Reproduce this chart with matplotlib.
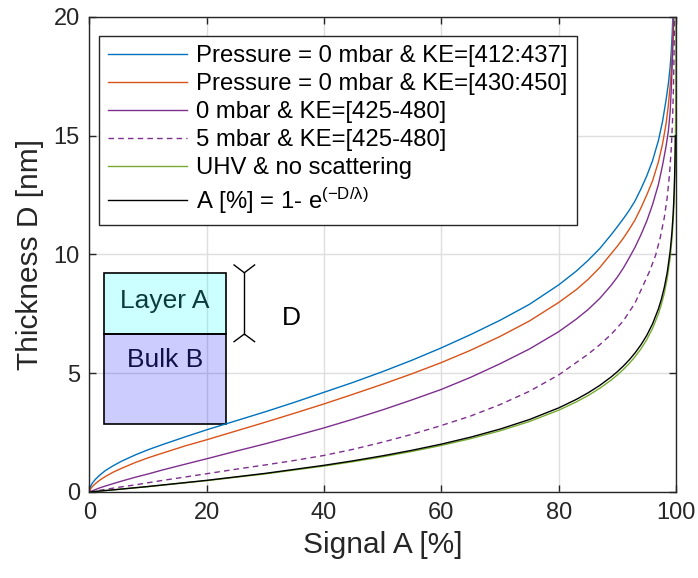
import matplotlib
matplotlib.use("Agg")
import matplotlib.pyplot as plt
from matplotlib.patches import Rectangle

plt.rcParams['font.family'] = ['Liberation Sans', 'DejaVu Sans']
plt.rcParams['mathtext.fontset'] = 'custom'
plt.rcParams['mathtext.rm'] = 'Liberation Sans'
plt.rcParams['mathtext.default'] = 'regular'

# Signal A [%] vs layer thickness D [nm] for each setup
a_ke412 = [0, 0.2, 0.5, 1, 1.7, 2.7, 4, 5.5, 7.8, 10, 12.5, 16.3, 20, 25, 30, 35, 40, 45, 50, 55,
           60, 65, 70, 75, 80, 83, 85, 87, 89, 90, 91, 92, 93, 94, 95, 96, 97, 97.7, 98.3, 98.7,
           99.0, 99.2, 99.35, 99.45]
d_ke412 = [0, 0.24, 0.38, 0.53, 0.7, 0.9, 1.1, 1.3, 1.56, 1.78, 2.0, 2.32, 2.62, 3.0, 3.38, 3.78,
           4.2, 4.62, 5.07, 5.55, 6.07, 6.63, 7.23, 7.9, 8.72, 9.3, 9.75, 10.25, 10.85, 11.17, 11.5,
           11.85, 12.25, 12.75, 13.3, 13.95, 14.8, 15.6, 16.5, 17.2, 17.9, 18.6, 19.3, 20.0]

a_ke430 = [0, 0.2, 0.5, 1, 1.7, 2.7, 4, 5.5, 7.8, 10, 12.5, 16.3, 20, 25, 30, 35, 40, 45, 50, 55,
           60, 65, 70, 75, 80, 83, 85, 87, 89, 90, 91, 92, 93, 94, 95, 96, 97, 97.7, 98.3, 98.7,
           99.0, 99.2, 99.35, 99.5, 99.55]
d_ke430 = [0, 0.14, 0.23, 0.35, 0.49, 0.65, 0.83, 1.0, 1.24, 1.44, 1.64, 1.94, 2.2, 2.57, 2.94,
           3.32, 3.71, 4.12, 4.54, 4.98, 5.45, 5.97, 6.55, 7.2, 7.98, 8.52, 8.95, 9.45, 10.05, 10.35,
           10.68, 11.05, 11.45, 11.95, 12.5, 13.1, 13.9, 14.65, 15.5, 16.3, 17.1, 17.8, 18.6, 19.6,
           20.0]

a_0mbar = [0, 0.5, 1, 1.7, 2.7, 4, 5.5, 7.8, 10, 12.5, 16.3, 20, 25, 30, 35, 40, 45, 50, 55,
           60, 65, 70, 75, 80, 83, 85, 87, 89, 90, 91, 92, 93, 94, 95, 96, 97, 97.7, 98.3, 98.7,
           99.0, 99.2, 99.4, 99.55, 99.63]
d_0mbar = [0, 0.05, 0.1, 0.17, 0.25, 0.35, 0.46, 0.62, 0.76, 0.93, 1.17, 1.4, 1.72, 2.03, 2.36,
           2.7, 3.07, 3.46, 3.88, 4.32, 4.83, 5.4, 6.02, 6.75, 7.28, 7.68, 8.15, 8.72, 9.05, 9.42,
           9.85, 10.3, 10.82, 11.4, 12.1, 12.95, 13.75, 14.55, 15.2, 16.0, 17.0, 18.3, 19.4, 20.0]

a_5mbar = [0, 1, 2.7, 5, 7.8, 10, 12.5, 16.3, 20, 25, 30, 35, 40, 45, 50, 55, 60, 65, 70, 75,
           80, 85, 87, 89, 91, 93, 94.4, 95.5, 96.5, 97.3, 98, 98.5, 98.9, 99.2, 99.4, 99.55,
           99.65, 99.75]
d_5mbar = [0, 0.04, 0.11, 0.2, 0.3, 0.39, 0.49, 0.63, 0.77, 0.96, 1.14, 1.33, 1.54, 1.8, 2.1,
           2.43, 2.8, 3.2, 3.68, 4.24, 4.93, 5.8, 6.2, 6.65, 7.2, 7.95, 8.7, 9.3, 9.95, 10.7,
           11.55, 12.4, 13.4, 14.5, 15.6, 16.9, 18.2, 20.0]

a_uhv = [0, 5, 10, 20, 30, 40, 45, 50, 55, 60, 65, 70, 75, 80, 83, 85, 87, 89, 90, 91, 92, 93,
         94, 95, 96, 97, 97.5, 98, 98.5, 99, 99.3, 99.5, 99.6, 99.7, 99.8, 99.85, 99.9, 99.95,
         99.98, 99.995]
d_uhv = [0, 0.11, 0.225, 0.478, 0.763, 1.093, 1.279, 1.483, 1.709, 1.961, 2.247, 2.577, 2.967,
         3.444, 3.792, 4.06, 4.366, 4.723, 4.93, 5.153, 5.406, 5.69, 6.02, 6.41, 6.888, 7.50,
         7.894, 8.37, 8.988, 9.86, 10.62, 11.34, 11.815, 12.43, 13.30, 13.91, 14.78, 16.26,
         18.22, 20.0]

a_model = [0, 5, 10, 20, 30, 40, 45, 50, 55, 60, 65, 70, 75, 80, 83, 85, 87, 89, 90, 91, 92,
           93, 94, 95, 96, 97, 97.5, 98, 98.5, 99, 99.3, 99.5, 99.6, 99.7, 99.8, 99.85, 99.89]
d_model = [0, 0.113, 0.232, 0.491, 0.785, 1.124, 1.315, 1.525, 1.757, 2.016, 2.310, 2.649,
           3.050, 3.541, 3.898, 4.174, 4.488, 4.856, 5.066, 5.297, 5.557, 5.85, 6.19, 6.59, 7.08,
           7.71, 8.115, 8.61, 9.24, 10.13, 10.92, 11.66, 12.15, 12.78, 13.67, 14.30, 15.0]

fig = plt.figure(figsize=(6.98, 5.78), dpi=100)
ax = fig.add_axes([0.1282, 0.1488, 0.8403, 0.8218])

ax.plot(a_ke412, d_ke412, color='#0072BD', lw=1.0, label='Pressure = 0 mbar & KE=[412:437]')
ax.plot(a_ke430, d_ke430, color='#D95319', lw=1.0, label='Pressure = 0 mbar & KE=[430:450]')
ax.plot(a_0mbar, d_0mbar, color='#7E2F8E', lw=1.0, label='0 mbar & KE=[425-480]')
ax.plot(a_5mbar, d_5mbar, color='#7E2F8E', lw=1.0, ls=(0, (4, 3)), label='5 mbar & KE=[425-480]')
ax.plot(a_uhv, d_uhv, color='#77AC30', lw=1.0, label='UHV & no scattering')
ax.plot(a_model, d_model, color='black', lw=1.0, label=r'A [%] = 1- e$^{(-D/λ)}$')

ax.set_xlim(0, 100)
ax.set_ylim(0, 20)
ax.set_xticks([0, 20, 40, 60, 80, 100])
ax.set_yticks([0, 5, 10, 15, 20])
ax.grid(True, color='#dedede', lw=1.0)
ax.set_axisbelow(True)
ax.tick_params(direction='in', length=5, width=1.0, top=True, right=True,
               labelsize=17, colors='#262626', pad=7)
for s in ax.spines.values():
    s.set_color('#262626')
    s.set_linewidth(1.0)

ax.set_xlabel('Signal A [%]', fontsize=21.5, color='#262626', labelpad=5)
ax.set_ylabel('Thickness D [nm]', fontsize=21.5, color='#262626', labelpad=7)

leg = ax.legend(loc='upper left', bbox_to_anchor=(0.016, 0.961), fontsize=17.2,
                handlelength=3.3, handletextpad=0.35, labelspacing=0.25,
                borderaxespad=0, borderpad=0.4, fancybox=False, framealpha=1)
leg.get_frame().set_edgecolor('#262626')
leg.get_frame().set_linewidth(1.0)

# layer sketch
ax.add_patch(Rectangle((2.47, 6.65), 20.8, 2.56, facecolor=(0, 1, 1, 0.2),
                       edgecolor='black', lw=1.2, zorder=1.5))
ax.add_patch(Rectangle((2.47, 2.85), 20.8, 3.80, facecolor=(0, 0, 1, 0.2),
                       edgecolor='black', lw=1.2, zorder=1.5))
ax.text(12.9, 8.06, 'Layer A', fontsize=19, color='#0d3b3b', ha='center', va='center')
ax.text(12.9, 5.55, 'Bulk B', fontsize=19, color='#10104a', ha='center', va='center')

# thickness bracket
bx = 26.4
ax.plot([bx, bx], [9.23, 6.65], color='black', lw=1.0)
ax.plot([bx - 1.75, bx, bx + 1.75], [9.56, 9.23, 9.56], color='black', lw=1.0)
ax.plot([bx - 1.75, bx, bx + 1.75], [6.33, 6.65, 6.33], color='black', lw=1.0)
ax.text(34.5, 7.31, 'D', fontsize=19, color='black', ha='center', va='center')

plt.savefig('out.png', dpi=100)
